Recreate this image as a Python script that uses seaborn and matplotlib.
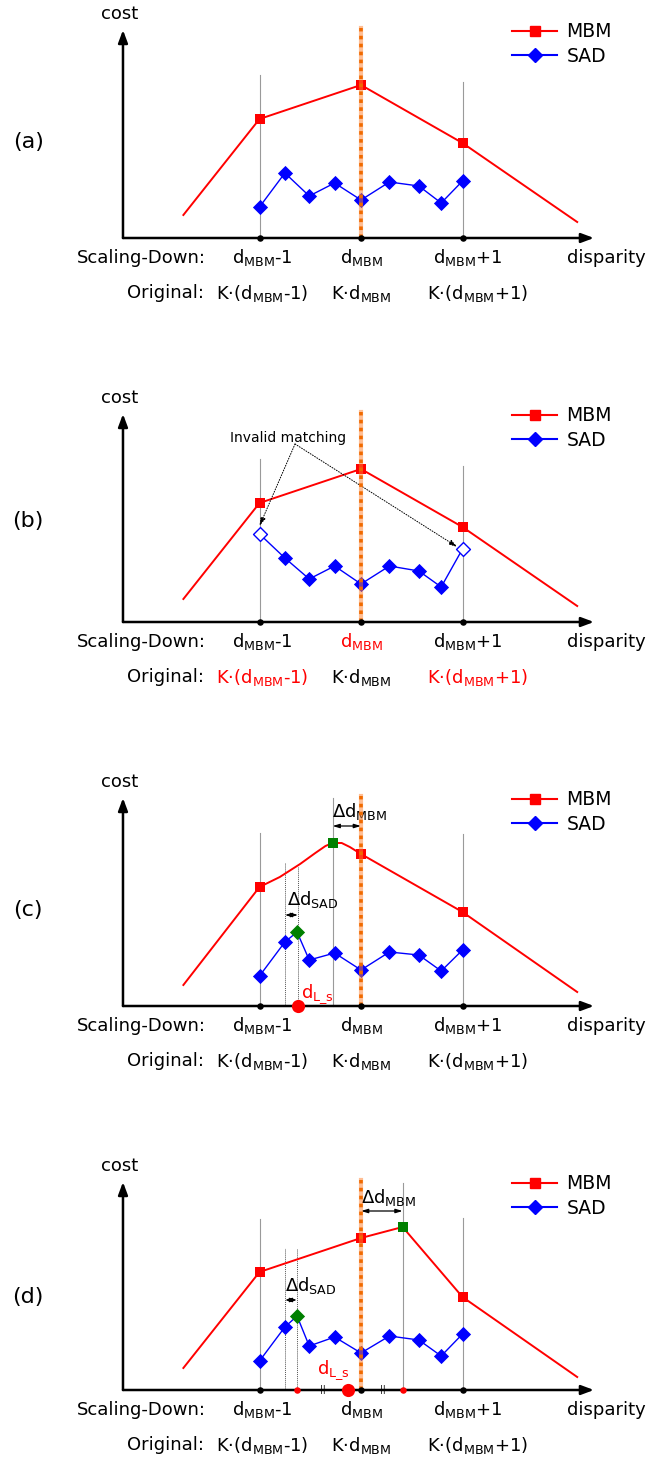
import numpy as np
import matplotlib
matplotlib.use('Agg')
import matplotlib.pyplot as plt
import seaborn as sns
from matplotlib.lines import Line2D

# --- data: disparity in units of the scaled-down step (d_MBM = 0), cost in arbitrary units ---
panel_names = ['(a)', '(b)', '(c)', '(d)']

mbm_x_ab = [-1.75, -1.0, 0.0, 1.0, 2.13]
mbm_a = [23, 119, 153, 95, 16]
mbm_b = [23, 119, 153, 95, 16]
mbm_x_c = [-1.75, -1.0, -0.80, -0.60, -0.45, -0.35, -0.28, -0.19, -0.11, 0.0, 1.0, 2.13]
mbm_c = [21, 119, 129, 142, 153, 160, 163, 163, 159, 152, 94, 14]
mbm_x_d = [-1.75, -1.0, 0.0, 0.41, 1.0, 2.13]
mbm_d = [22, 118, 152, 163, 93, 13]

sad_x_ab = [-1.0, -0.75, -0.51, -0.26, 0.0, 0.28, 0.57, 0.79, 1.0]
sad_a = [31, 65, 42, 55, 38, 56, 52, 35, 57]
sad_b = [88, 64, 43, 56, 38, 56, 51, 35, 73]
sad_x_cd = [-1.0, -0.75, -0.63, -0.51, -0.26, 0.0, 0.28, 0.57, 0.79, 1.0]
sad_c = [30, 64, 74, 46, 53, 36, 54, 51, 35, 56]
sad_d = [29, 63, 74, 44, 53, 37, 54, 50, 34, 56]

grid_ticks = [-1, 0, 1]
row1_labels = ['d$_\\mathregular{MBM}$-1', 'd$_\\mathregular{MBM}$', 'd$_\\mathregular{MBM}$+1']
row1_x = [-0.97, 0.0, 1.05]
row2_labels = ['K·(d$_\\mathregular{MBM}$-1)', 'K·d$_\\mathregular{MBM}$', 'K·(d$_\\mathregular{MBM}$+1)']
row2_x = [-0.97, 0.0, 1.15]

# guide lines (x, top) per panel
guides = {
    '(a)': [(-1, 163), (1, 156)],
    '(b)': [(-1, 163), (1, 156)],
    '(c)': [(-1, 173), (-0.28, 208), (1, 172)],
    '(d)': [(-1, 171), (0.41, 207), (1, 172)],
}
sad_guides = {'(c)': [(-0.75, 143), (-0.62, 139)], '(d)': [(-0.75, 142), (-0.63, 141)]}
label_y = [96, 101, 96, 93]

RED = '#ff0000'
BLUE = '#0000ff'
GREEN = '#008000'
ORANGE = '#ff7f2a'
FS = 13

fig = plt.figure(figsize=(6.47, 14.64), dpi=100)
px = 101.5  # pixels per disparity step

AX_ARROW = dict(arrowstyle='-|>,head_width=0.28,head_length=0.75', color='black',
                lw=1.8, shrinkA=0, shrinkB=0, mutation_scale=10)

def draw_common(ax, name, ly):
    # axes with arrows
    ax.annotate('', xy=(2.295, 0), xytext=(-2.345, 0), arrowprops=AX_ARROW)
    ax.annotate('', xy=(-2.345, 208), xytext=(-2.345, 0), arrowprops=AX_ARROW)
    ax.text(-2.38, 224, 'cost', fontsize=FS, ha='center', va='center')
    ax.text(2.42, -20, 'disparity', fontsize=FS, ha='center', va='center')
    ax.text(-3.28, ly, name, fontsize=16, ha='center', va='center')
    ax.text(-1.53, -20, 'Scaling-Down:', fontsize=FS, ha='right', va='center')
    ax.text(-1.55, -55, 'Original:', fontsize=FS, ha='right', va='center')
    for gx, gt in guides[name]:
        ax.plot([gx, gx], [0, gt], color='#9a9a9a', lw=0.8, zorder=1)
    for gx, gt in sad_guides.get(name, []):
        ax.plot([gx, gx], [0, gt], color='#555555', lw=0.7, ls=(0, (1, 1)), zorder=1)
    # d_MBM line
    ax.plot([0, 0], [0, 210], color=ORANGE, lw=3, alpha=0.5, zorder=6)
    ax.plot([0, 0], [0, 210], color='#f06a00', lw=2.6, ls=(0, (1, 1.2)), zorder=6)
    sns.scatterplot(x=grid_ticks, y=[0, 0, 0], ax=ax, color='black', s=22, linewidth=0, zorder=8)
    handles = [Line2D([], [], color=RED, marker='s', markersize=7, lw=1.5),
               Line2D([], [], color=BLUE, marker='D', markersize=7, lw=1.5)]
    ax.legend(handles, ['MBM', 'SAD'], loc='center left', bbox_to_anchor=(1.49, 194),
              bbox_transform=ax.transData, frameon=False, fontsize=13.5, borderpad=0,
              borderaxespad=0, handlelength=2.4, handletextpad=0.5, labelspacing=0.28)

def row_labels(ax, red1=(), red2=()):
    for i, (t, x) in enumerate(zip(row1_labels, row1_x)):
        ax.text(x, -20, t, fontsize=FS, ha='center', va='center', color=RED if i in red1 else 'black')
    for i, (t, x) in enumerate(zip(row2_labels, row2_x)):
        ax.text(x, -55, t, fontsize=FS, ha='center', va='center', color=RED if i in red2 else 'black')

def mbm_line(ax, xs, ys, sq_x, sq_y, green=None):
    sns.lineplot(x=xs, y=ys, ax=ax, color=RED, lw=1.4, sort=False, estimator=None, zorder=3)
    sns.scatterplot(x=sq_x, y=sq_y, ax=ax, color=RED, marker='s', s=60, linewidth=0, zorder=4)
    if green is not None:
        sns.scatterplot(x=[green[0]], y=[green[1]], ax=ax, color=GREEN, marker='s', s=60,
                        linewidth=0, zorder=4)

def sad_line(ax, xs, ys, filled_idx, hollow_idx=(), green_idx=None):
    sns.lineplot(x=xs, y=ys, ax=ax, color=BLUE, lw=1.0, sort=False, estimator=None, zorder=3)
    fx = [xs[i] for i in filled_idx]
    fy = [ys[i] for i in filled_idx]
    sns.scatterplot(x=fx, y=fy, ax=ax, color=BLUE, marker='D', s=60, linewidth=0, zorder=4)
    if hollow_idx:
        ax.scatter([xs[i] for i in hollow_idx], [ys[i] for i in hollow_idx], marker='D', s=50,
                   facecolors='white', edgecolors=BLUE, linewidths=1, zorder=4)
    if green_idx is not None:
        sns.scatterplot(x=[xs[green_idx]], y=[ys[green_idx]], ax=ax, color=GREEN, marker='D',
                        s=60, linewidth=0, zorder=5)

def delta_arrow(ax, x0, x1, y, label, ly, lx):
    ax.annotate('', xy=(x1, y), xytext=(x0, y),
                arrowprops=dict(arrowstyle='<|-|>,head_width=0.12,head_length=0.4', color='black',
                                lw=0.9, shrinkA=0, shrinkB=0))
    ax.text(lx, ly, label, fontsize=13, ha='center', va='center')

axes = []
for k, name in enumerate(panel_names):
    h = min(384, 1464 - 384 * k)
    ax = fig.add_axes([0, 1 - (384 * k + h) / 1464, 1, h / 1464])
    ax.set_xlim(-361 / px, 286 / px)
    ax.set_ylim(238 - h, 238)
    ax.axis('off')
    draw_common(ax, name, label_y[k])
    axes.append(ax)

# (a)
ax = axes[0]
mbm_line(ax, mbm_x_ab, mbm_a, [-1, 0, 1], [mbm_a[1], mbm_a[2], mbm_a[3]])
sad_line(ax, sad_x_ab, sad_a, range(9))
row_labels(ax)

# (b)
ax = axes[1]
mbm_line(ax, mbm_x_ab, mbm_b, [-1, 0, 1], [mbm_b[1], mbm_b[2], mbm_b[3]])
sad_line(ax, sad_x_ab, sad_b, range(1, 8), hollow_idx=(0, 8))
row_labels(ax, red1=(1,), red2=(0, 2))
ax.text(-0.72, 184, 'Invalid matching', fontsize=10, ha='center', va='center')
for tx, ty in [(-1.0, 96), (0.95, 75)]:
    ax.annotate('', xy=(tx, ty), xytext=(-0.65, 178),
                arrowprops=dict(arrowstyle='-|>,head_width=0.15,head_length=0.5', color='black',
                                lw=0.7, ls=':', shrinkA=0, shrinkB=0))

# (c)
ax = axes[2]
mbm_line(ax, mbm_x_c, mbm_c, [-1, 0, 1], [119, 152, 94], green=(-0.28, 163))
sad_line(ax, sad_x_cd, sad_c, [0, 1, 3, 4, 5, 6, 7, 8, 9], green_idx=2)
row_labels(ax)
delta_arrow(ax, -0.75, -0.62, 91, 'Δd$_\\mathregular{SAD}$', 106, -0.48)
delta_arrow(ax, -0.28, 0.0, 180, 'Δd$_\\mathregular{MBM}$', 194, -0.01)
sns.scatterplot(x=[-0.62], y=[0], ax=ax, color=RED, s=90, linewidth=0, zorder=9)
ax.text(-0.43, 12, 'd$_\\mathregular{L\\_s}$', fontsize=13, color=RED, ha='center', va='center')

# (d)
ax = axes[3]
mbm_line(ax, mbm_x_d, mbm_d, [-1, 0, 1], [118, 152, 93], green=(0.41, 163))
sad_line(ax, sad_x_cd, sad_d, [0, 1, 3, 4, 5, 6, 7, 8, 9], green_idx=2)
row_labels(ax)
delta_arrow(ax, -0.75, -0.63, 90, 'Δd$_\\mathregular{SAD}$', 104, -0.49)
delta_arrow(ax, 0.0, 0.41, 179, 'Δd$_\\mathregular{MBM}$', 192, 0.27)
sns.scatterplot(x=[-0.63, 0.41], y=[0, 0], ax=ax, color=RED, s=22, linewidth=0, zorder=9)
sns.scatterplot(x=[-0.13], y=[0], ax=ax, color=RED, s=90, linewidth=0, zorder=9)
for bx in [-0.38, 0.22]:
    ax.text(bx, 0, '||', fontsize=6, ha='center', va='center', color='black', zorder=9)
ax.text(-0.27, 20, 'd$_\\mathregular{L\\_s}$', fontsize=13, color=RED, ha='center', va='center')

fig.savefig('out.png', dpi=100)
